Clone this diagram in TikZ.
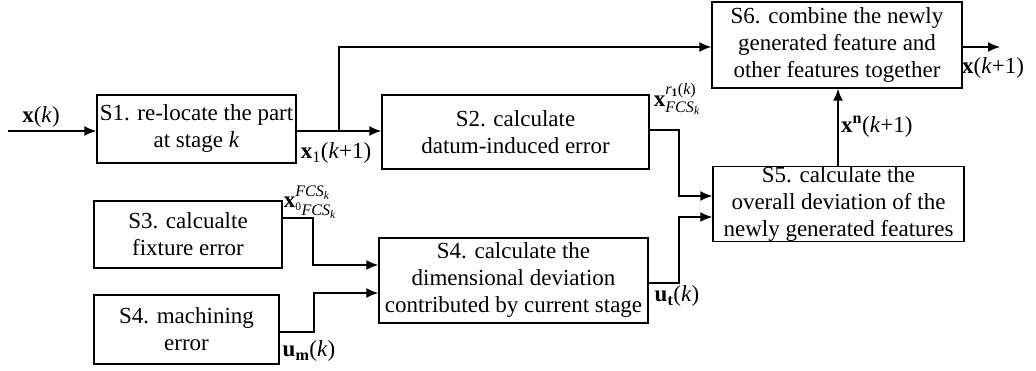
\documentclass[tikz,border=0pt]{standalone}
\usepackage{amsmath}
\usepackage{fontspec}
\setmainfont{Liberation Serif}
\usetikzlibrary{arrows.meta}
% bold vector and italic index helpers
\newcommand{\bv}[1]{\text{\bfseries #1}}
\newcommand{\iv}[1]{\text{\itshape #1}}
\begin{document}
\begin{tikzpicture}[x=1pt,y=-1pt,
  blk/.style={draw,line width=1.4pt,inner sep=0pt,align=center,
    font=\fontsize{23}{27}\selectfont},
  lbl/.style={inner sep=0pt,font=\fontsize{23}{27}\selectfont},
  flow/.style={line width=1.6pt,-{Latex[length=12pt,width=10pt]}},
  wire/.style={line width=1.6pt}]
\useasboundingbox (0,0) rectangle (1036,371);

% process blocks
\node[blk,minimum width=199pt,minimum height=68pt] (s1) at (196.5,129) {S1. re-locate the part\\at stage \textit{k}};
\node[blk,minimum width=267pt,minimum height=74pt] (s2) at (515.5,132) {S2. calculate\\datum-induced error};
\node[blk,minimum width=250pt,minimum height=86pt] (s6) at (837,45) {S6. combine the newly\\generated feature and\\other features together};
\node[blk,minimum width=251pt,minimum height=74pt] (s5) at (838.5,204) {S5. calculate the\\overall deviation of the\\newly generated features};
\node[blk,minimum width=188pt,minimum height=67pt] (s3) at (188,234.5) {S3. calcualte\\fixture error};
\node[blk,minimum width=185pt,minimum height=69pt] (s4m) at (186.5,329.5) {S4. machining\\error};
\node[blk,minimum width=269pt,minimum height=85pt] (s4c) at (513.5,280.5) {S4. calculate the\\dimensional deviation\\contributed by current stage};

% free ends and bend points
\coordinate (in) at (8,131);
\coordinate (out) at (1000,47);
\coordinate (br) at (339,131);

% connectors
\draw[flow] (in) -- (s1.west |- in);
\draw[flow] (s1.east |- br) -- (s2.west |- br);
\draw[flow] (br) -- (339,47) -- (s6.west |- out);
\draw[flow] (s6.east |- out) -- (out);
\draw[flow] (s5.north -| 838,0) -- (s6.south -| 838,0);
\draw[flow] (s2.east |- 0,130) -- (679,130) -- (679,196) -- (s5.west |- 0,196);
\draw[flow] (s4c.east |- 0,283) -- (679,283) -- (679,217) -- (s5.west |- 0,217);
\draw[flow] (s3.east |- 0,218) -- (313,218) -- (313,265) -- (s4c.west |- 0,265);
\draw[flow] (s4m.east |- 0,332) -- (314,332) -- (314,293) -- (s4c.west |- 0,293);

% signal labels
\node[lbl] (lxk) at (41,117) {\textbf{x}(\textit{k})};
\node[lbl] (lx1) at (336,153) {$\bv{x}_{\text{1}}$(\textit{k}+1)};
\node[lbl] (lxr) at (677,99) {$\bv{x}^{\iv{r}_{\bv{1}}\text{(}\iv{k}\text{)}}_{\iv{FCS}_{\iv{k}}}$};
\node[lbl,anchor=west] (lxn) at (841,127) {$\bv{x}^{\bv{n}}$(\textit{k}+1)};
\node[lbl,anchor=west] (lxo) at (962,68) {\textbf{x}(\textit{k}+1)};
\node[lbl] (lx0) at (310,202) {$\bv{x}^{\iv{FCS}_{\iv{k}}}_{{}^{\text{0}}\iv{FCS}_{\iv{k}}}$};
\node[lbl] (lum) at (309,351) {$\bv{u}_{\bv{m}}$(\textit{k})};
\node[lbl] (lut) at (677,296) {$\bv{u}_{\bv{t}}$(\textit{k})};
\end{tikzpicture}
\end{document}
